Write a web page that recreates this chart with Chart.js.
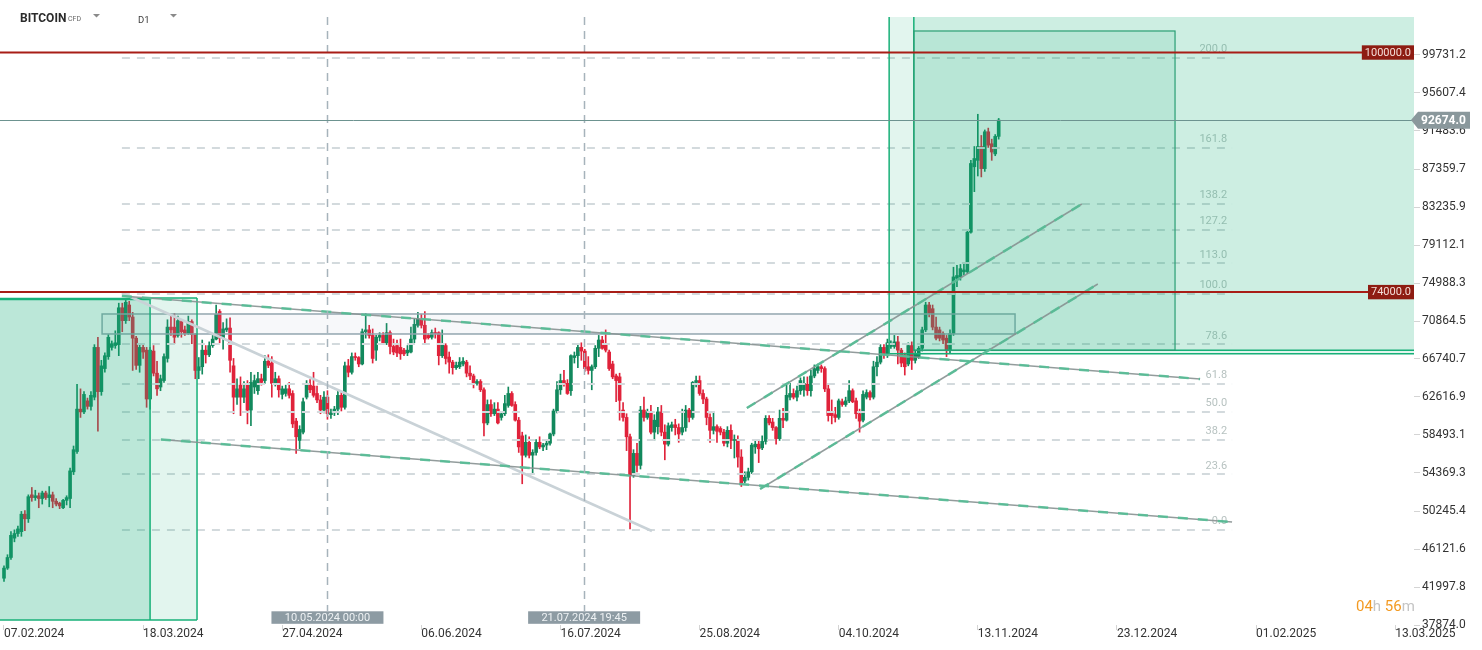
<!DOCTYPE html>
<html>
<head>
<meta charset="utf-8">
<script src="https://cdn.jsdelivr.net/npm/chart.js@4.4.1/dist/chart.umd.min.js"></script>
<style>
  html, body { margin: 0; padding: 0; background: #fff; }
  #wrap { width: 1482px; height: 650px; }
</style>
</head>
<body>
<div id="wrap"><canvas id="chart" width="1482" height="650"></canvas></div>
<script>
// daily candles, index 0 = 07.02.2024 ... 286 = 19.11.2024, prices in thousands
var opens = [
  42.95, 44.05, 45.2, 47.3, 47.8, 48.0, 49.9, 49.4, 52.0, 51.7,
  51.9, 51.6, 52.2, 51.7, 52.0, 51.3, 51.1, 50.6, 51.4, 51.6,
  54.5, 56.7, 61.3, 61.0, 62.2, 61.6, 62.6, 68.0, 63.2, 65.7,
  67.0, 68.0, 68.2, 68.3, 72.3, 70.9, 72.6, 71.3, 69.0, 66.05,
  68.0, 67.7, 62.4, 67.6, 65.2, 63.7, 64.4, 66.8, 70.2, 70.2,
  69.3, 70.8, 69.9, 69.5, 70.8, 69.4, 65.5, 65.9, 67.7, 67.2,
  68.2, 68.9, 71.9, 69.0, 69.9, 70.1, 66.0, 62.6, 63.9, 62.6,
  64.0, 61.2, 63.7, 63.3, 64.6, 64.4, 66.5, 66.3, 64.1, 64.6,
  62.9, 63.0, 63.5, 63.0, 60.0, 57.9, 58.8, 62.6, 63.9, 63.8,
  63.0, 62.3, 61.2, 62.6, 60.7, 60.9, 61.3, 62.8, 61.5, 66.0,
  65.3, 67.0, 66.9, 66.2, 69.7, 69.9, 69.3, 67.7, 69.1, 69.3,
  68.5, 69.6, 68.1, 68.2, 68.0, 67.7, 67.4, 67.5, 68.9, 70.4,
  71.0, 70.4, 69.3, 69.1, 69.6, 69.6, 67.1, 68.2, 66.95, 66.4,
  65.8, 65.9, 66.2, 66.4, 65.2, 64.9, 64.1, 64.3, 63.4, 59.8,
  61.8, 60.8, 61.3, 60.4, 60.8, 61.7, 63.0, 61.8, 60.1, 58.4,
  56.3, 57.7, 56.3, 56.6, 57.7, 57.2, 57.4, 57.6, 58.6, 61.1,
  63.4, 64.4, 64.1, 63.3, 66.9, 67.1, 68.0, 67.6, 65.9, 65.5,
  65.9, 67.9, 68.8, 68.4, 67.5, 66.2, 64.9, 64.8, 61.2, 60.4,
  58.3, 54.1, 56.5, 55.2, 61.2, 60.4, 61.0, 58.8, 59.4, 61.0,
  58.8, 57.5, 59.3, 59.6, 59.3, 58.8, 59.3, 61.2, 60.4, 64.2,
  64.4, 63.0, 62.4, 60.4, 59.0, 59.4, 59.2, 58.8, 57.6, 59.0,
  57.9, 58.0, 56.1, 53.5, 53.9, 54.5, 57.2, 57.5, 57.1, 57.8,
  60.3, 59.9, 59.3, 58.1, 60.3, 60.1, 62.6, 63.0, 62.6, 63.3,
  63.4, 64.0, 63.3, 64.9, 65.5, 65.9, 65.7, 63.5, 60.9, 60.7,
  60.4, 62.1, 61.8, 62.2, 63.3, 62.2, 60.8, 60.1, 62.6, 63.1,
  62.6, 65.9, 66.4, 68.0, 67.3, 68.1, 68.1, 68.6, 67.7, 67.2,
  66.2, 68.2, 66.6, 67.0, 67.9, 69.9, 72.6, 72.2, 70.2, 69.9,
  69.5, 69.0, 67.7, 69.5, 75.5, 75.65, 76.2, 76.2, 80.5, 87.6,
  88.3, 89.8, 87.4, 91.4, 90.1, 89.0, 90.9
];
var highs = [
  44.3, 45.5, 48.0, 48.2, 48.6, 50.2, 50.3, 52.0, 52.8, 52.5,
  52.2, 52.4, 52.4, 52.9, 52.3, 51.6, 51.2, 51.5, 51.9, 54.9,
  57.3, 64.0, 63.5, 63.2, 62.5, 63.2, 68.3, 69.1, 66.6, 67.4,
  69.4, 68.7, 69.8, 72.8, 72.8, 73.3, 73.0, 71.8, 69.2, 68.3,
  68.4, 68.0, 68.0, 68.2, 66.5, 65.0, 67.3, 71.0, 71.5, 71.7,
  71.4, 71.0, 70.3, 71.4, 71.0, 69.5, 66.9, 68.8, 68.2, 68.6,
  69.3, 72.6, 72.1, 70.7, 71.1, 71.2, 66.8, 64.6, 64.8, 64.3,
  64.4, 65.3, 65.0, 65.3, 65.1, 67.1, 67.2, 67.0, 65.3, 64.9,
  63.8, 63.9, 64.2, 63.3, 60.3, 59.5, 62.5, 64.4, 64.5, 65.3,
  63.8, 62.8, 63.2, 63.3, 61.3, 61.6, 63.3, 63.1, 66.4, 66.7,
  67.4, 67.4, 67.0, 70.0, 71.7, 70.4, 70.0, 69.3, 69.6, 69.6,
  70.6, 69.8, 68.9, 68.8, 68.9, 67.9, 68.2, 70.2, 71.1, 71.8,
  71.6, 71.9, 69.5, 69.9, 70.1, 69.7, 69.9, 68.4, 67.5, 66.6,
  66.4, 66.9, 66.9, 66.6, 66.0, 65.1, 64.5, 64.5, 63.6, 62.3,
  62.3, 62.0, 62.0, 61.0, 62.8, 63.7, 63.2, 62.1, 60.4, 58.8,
  58.5, 58.3, 56.9, 58.0, 58.3, 57.6, 58.0, 58.7, 61.3, 64.3,
  65.1, 65.5, 64.5, 67.2, 67.5, 68.4, 68.5, 67.8, 67.0, 66.1,
  68.2, 69.3, 69.2, 69.9, 67.7, 66.5, 65.1, 65.2, 62.0, 60.8,
  58.6, 56.9, 57.6, 61.6, 62.6, 61.3, 61.7, 60.7, 61.5, 61.7,
  59.6, 59.8, 59.9, 60.2, 59.7, 61.3, 61.7, 61.4, 64.3, 64.9,
  64.9, 63.4, 62.6, 60.8, 61.0, 59.6, 59.4, 59.1, 59.4, 59.6,
  58.5, 58.4, 56.9, 54.5, 54.9, 57.6, 58.0, 57.9, 58.4, 60.6,
  60.6, 60.3, 59.4, 61.2, 61.4, 63.9, 64.1, 63.5, 63.8, 64.7,
  64.8, 64.8, 65.5, 66.1, 66.2, 66.1, 65.9, 64.1, 62.3, 61.5,
  62.4, 62.4, 62.6, 64.4, 63.5, 62.5, 61.3, 63.3, 63.4, 63.3,
  66.5, 67.0, 68.3, 68.3, 68.9, 68.7, 69.3, 69.2, 67.9, 67.4,
  68.5, 68.6, 67.6, 68.1, 70.2, 72.9, 72.9, 72.6, 71.3, 70.2,
  69.7, 69.3, 69.9, 76.7, 76.9, 77.0, 77.1, 80.7, 88.3, 89.8,
  93.3, 91.0, 91.6, 91.8, 90.6, 91.1, 92.85
];
var lows = [
  42.6, 43.9, 45.0, 46.9, 47.5, 47.5, 48.1, 49.0, 51.3, 51.4,
  50.6, 51.0, 51.5, 50.7, 50.6, 50.8, 50.5, 50.5, 50.9, 50.6,
  54.2, 56.5, 60.4, 60.8, 61.3, 61.2, 62.3, 58.9, 62.8, 65.3,
  66.7, 67.7, 67.9, 67.1, 69.7, 70.6, 70.9, 65.5, 65.6, 65.3,
  66.8, 61.5, 61.3, 64.9, 62.8, 63.3, 64.2, 66.4, 69.3, 68.4,
  69.1, 69.1, 69.3, 69.4, 68.4, 64.6, 64.6, 65.1, 66.3, 67.0,
  68.0, 68.8, 68.5, 67.8, 69.7, 65.3, 60.8, 61.8, 60.6, 62.0,
  59.7, 59.5, 63.0, 62.9, 63.9, 64.1, 65.8, 62.6, 63.8, 62.6,
  62.4, 62.7, 62.5, 59.3, 56.5, 57.0, 58.6, 62.4, 63.1, 62.6,
  62.0, 60.8, 60.9, 60.2, 60.3, 60.6, 60.7, 61.1, 61.3, 64.8,
  65.1, 66.6, 65.9, 66.1, 69.0, 69.0, 66.3, 66.6, 68.7, 68.3,
  68.3, 67.3, 67.2, 67.0, 66.7, 67.1, 67.1, 67.4, 68.5, 70.2,
  70.1, 68.5, 68.9, 68.9, 69.0, 66.1, 66.9, 66.2, 65.2, 65.1,
  65.6, 65.7, 66.0, 64.8, 64.5, 63.6, 63.9, 63.2, 58.4, 59.6,
  60.5, 60.6, 59.7, 60.1, 60.6, 61.5, 61.6, 60.0, 56.6, 53.2,
  56.1, 56.0, 54.3, 56.3, 57.0, 56.8, 56.9, 57.4, 58.4, 60.9,
  62.9, 63.8, 62.9, 62.8, 66.3, 65.8, 66.6, 65.4, 65.1, 63.4,
  65.7, 67.0, 67.8, 67.5, 65.5, 64.6, 62.1, 60.1, 60.0, 56.8,
  48.3, 53.9, 54.5, 54.8, 60.0, 60.2, 58.6, 57.9, 58.6, 58.4,
  55.8, 57.3, 58.9, 58.5, 57.7, 58.5, 58.9, 59.9, 60.2, 63.7,
  62.8, 61.9, 59.6, 57.7, 58.6, 57.7, 58.5, 57.3, 57.2, 57.0,
  56.0, 55.0, 52.9, 53.3, 53.6, 54.3, 56.5, 55.5, 56.9, 57.5,
  59.6, 59.0, 57.5, 57.9, 59.3, 60.0, 62.3, 62.4, 62.2, 62.9,
  62.7, 62.8, 62.7, 64.7, 65.2, 65.3, 63.2, 60.0, 59.7, 59.9,
  60.2, 61.6, 61.6, 62.0, 62.0, 60.3, 58.8, 59.9, 62.4, 62.3,
  62.4, 64.9, 66.2, 66.8, 66.9, 67.9, 67.9, 66.2, 65.9, 65.0,
  66.0, 65.6, 66.3, 66.8, 67.6, 69.7, 71.3, 69.9, 68.8, 68.7,
  68.4, 67.0, 67.4, 69.3, 74.6, 75.3, 75.9, 76.0, 80.4, 84.9,
  86.6, 86.5, 87.1, 89.7, 88.3, 88.8, 90.6
];
var closes = [
  44.05, 45.2, 47.6, 47.8, 48.3, 49.9, 49.4, 51.8, 51.7, 51.9,
  51.6, 52.2, 51.7, 52.0, 51.3, 51.0, 50.8, 51.4, 51.7, 54.6,
  56.9, 61.3, 61.0, 62.9, 61.6, 62.8, 68.0, 63.2, 66.0, 67.1,
  69.1, 68.4, 68.5, 72.3, 70.9, 72.9, 71.3, 69.0, 66.05, 68.0,
  67.5, 62.4, 67.7, 65.2, 63.5, 64.6, 67.0, 70.2, 69.9, 69.1,
  70.9, 69.7, 69.5, 70.8, 69.4, 65.5, 65.9, 67.7, 67.2, 68.2,
  68.9, 71.6, 69.0, 70.0, 70.1, 66.6, 62.6, 63.5, 62.6, 63.5,
  61.2, 64.2, 64.4, 64.6, 64.2, 66.5, 66.05, 64.1, 64.6, 63.4,
  63.5, 63.5, 62.8, 59.7, 58.3, 59.1, 62.1, 63.9, 63.4, 62.8,
  62.3, 61.2, 62.6, 60.8, 60.9, 61.3, 62.8, 61.5, 66.0, 65.3,
  67.0, 66.9, 66.2, 69.7, 69.9, 69.3, 66.8, 69.1, 69.3, 68.5,
  69.6, 68.1, 67.5, 67.4, 67.3, 67.3, 67.7, 68.9, 70.5, 71.1,
  70.4, 68.9, 69.05, 69.6, 69.5, 67.1, 68.4, 66.8, 66.4, 65.8,
  66.05, 66.4, 66.5, 65.2, 64.9, 64.1, 64.3, 63.4, 59.8, 61.8,
  60.8, 61.3, 59.8, 60.8, 61.9, 63.0, 61.7, 60.1, 57.2, 56.3,
  57.7, 56.3, 56.6, 57.7, 57.2, 57.4, 57.6, 58.6, 61.1, 63.4,
  64.4, 64.1, 63.0, 67.1, 67.1, 68.0, 67.6, 65.7, 65.5, 65.9,
  67.9, 68.8, 67.9, 67.7, 65.7, 64.8, 64.4, 62.25, 60.4, 58.3,
  54.1, 56.5, 55.2, 61.2, 60.4, 61.0, 58.8, 60.1, 61.0, 58.8,
  57.5, 59.5, 59.6, 59.3, 58.6, 59.3, 61.2, 60.4, 64.2, 64.4,
  63.0, 62.4, 60.4, 59.0, 59.4, 58.9, 58.8, 57.6, 59.0, 57.9,
  58.0, 56.1, 53.3, 53.9, 54.5, 57.4, 57.5, 57.0, 57.8, 60.3,
  59.8, 59.3, 58.1, 60.3, 60.1, 62.8, 63.0, 62.6, 63.3, 64.4,
  64.1, 63.3, 64.9, 65.7, 65.9, 65.7, 63.5, 60.6, 60.6, 60.4,
  62.2, 61.8, 62.2, 63.3, 62.1, 60.8, 60.0, 62.9, 63.1, 62.6,
  65.9, 66.4, 68.0, 67.3, 68.5, 68.4, 68.6, 67.7, 66.3, 65.9,
  68.2, 66.6, 67.3, 67.9, 69.9, 72.6, 71.7, 70.2, 69.0, 69.0,
  68.8, 67.7, 69.5, 75.65, 75.8, 76.55, 76.4, 80.5, 87.96, 88.5,
  89.8, 87.4, 91.4, 89.95, 89.2, 90.9, 92.67
];

var xTickDays = [0, 40, 80, 120, 160, 200, 240, 280, 320, 360, 400];
var xTickLabels = ['07.02.2024', '18.03.2024', '27.04.2024', '06.06.2024', '16.07.2024', '25.08.2024',
  '04.10.2024', '13.11.2024', '23.12.2024', '01.02.2025', '13.03.2025'];
var yTicks = [37874.0, 41997.8, 46121.6, 50245.4, 54369.3, 58493.1, 62616.9, 66740.7,
  70864.5, 74988.3, 79112.1, 83235.9, 87359.7, 91483.6, 95607.4, 99731.2];

// drawings on the chart, in (day index, price)
var fibLevels = [0.0, 23.6, 38.2, 50.0, 61.8, 78.6, 100.0, 113.0, 127.2, 138.2, 161.8, 200.0];
var fibLow = 48185, fibHigh = 73795, fibFrom = 33.9, fibTo = 353.1;
var markerDays = [93, 166.8];
var markerLabels = ['10.05.2024 00:00', '21.07.2024 19:45'];
var levelPrices = [100000, 74000];
var lastPrice = 92674.0;
var channelLines = [
  [33.9, 73578, 343.9, 64571],
  [45.1, 58006, 353.1, 49053],
  [213.6, 61424, 309.9, 83562],
  [217.4, 52634, 314.5, 74880]
];
var guideLine = [33.9, 73904, 186.3, 48076];
var zoneRect = [28.2, 71625, 290.7, 69455];

var xMin = -1.15, xMax = 405.41, yMin = 37874.0, yMax = 103855.0;
var up = '#12895d', down = '#e0233b';

var days = closes.map(function (c, i) { return i; });
var colors = days.map(function (i) { return closes[i] >= opens[i] ? up : down; });

var overlay = {
  id: 'overlay',
  afterDatasetsDraw: function (chart) {
    var ctx = chart.ctx, xs = chart.scales.x, ys = chart.scales.y, area = chart.chartArea;
    var X = function (d) { return xs.getPixelForValue(d); };
    var Y = function (p) { return ys.getPixelForValue(p); };
    var fibPrice = function (lv) { return fibLow + (fibHigh - fibLow) * lv / 100; };
    var line = function (x1, y1, x2, y2) { ctx.beginPath(); ctx.moveTo(x1, y1); ctx.lineTo(x2, y2); ctx.stroke(); };
    ctx.save();

    // fibonacci levels
    ctx.lineWidth = 2;
    ctx.strokeStyle = '#d3dadd';
    ctx.setLineDash([8, 7]);
    fibLevels.forEach(function (lv) {
      var y = Math.round(Y(fibPrice(lv)));
      line(X(fibFrom), y, X(fibTo), y);
    });
    ctx.setLineDash([]);
    ctx.font = '11px Roboto';
    ctx.fillStyle = '#b7c2c0';
    ctx.textAlign = 'right';
    ctx.textBaseline = 'bottom';
    fibLevels.forEach(function (lv) {
      ctx.fillText(lv.toFixed(1), X(fibTo) - 5, Y(fibPrice(lv)) - 3);
    });

    // range rectangle
    var rx = X(zoneRect[0]), ry = Y(zoneRect[1]), rw = X(zoneRect[2]) - rx, rh = Y(zoneRect[3]) - ry;
    ctx.fillStyle = 'rgba(150,170,185,0.08)';
    ctx.fillRect(rx, ry, rw, rh);
    ctx.strokeStyle = '#93a6b0';
    ctx.lineWidth = 1.5;
    ctx.strokeRect(rx, ry, rw, rh);

    // position boxes
    var box = function (d1, p1, d2, p2, a) {
      var x1 = X(d1), y1 = Y(p1);
      ctx.fillStyle = 'rgba(22,176,122,' + a + ')';
      ctx.fillRect(x1, y1, X(d2) - x1, Y(p2) - y1);
    };
    box(xMin, 73361, 55.5, 38419, 0.125);
    box(xMin, 73250, 42.0, 38419, 0.19);
    box(254.5, yMax, xMax, 67320, 0.125);
    box(261.6, yMax, xMax, 67680, 0.10);
    box(261.6, 102336, 336.7, 67680, 0.11);
    ctx.strokeStyle = '#17b078';
    ctx.lineWidth = 1.5;
    line(X(42.0), Y(73361), X(55.5), Y(73361));
    line(X(55.5), Y(73361), X(55.5), Y(38419));
    line(X(xMin), Y(38419), X(55.5), Y(38419));
    line(X(42.0), Y(73250), X(42.0), Y(38419));
    ctx.lineWidth = 2.5;
    line(X(xMin), Y(73250), X(42.0), Y(73250));
    ctx.lineWidth = 1.5;
    line(X(254.5), area.top, X(254.5), Y(67320));
    line(X(254.5), Y(67320), area.right, Y(67320));
    line(X(261.6), area.top, X(261.6), Y(67680));
    line(X(261.6), Y(67680), area.right, Y(67680));
    ctx.strokeStyle = '#2a9f74';
    ctx.lineWidth = 1.2;
    ctx.strokeRect(X(261.6), Y(102336), X(336.7) - X(261.6), Y(67680) - Y(102336));

    // trend lines
    ctx.strokeStyle = '#c9d2d7';
    ctx.lineWidth = 2.5;
    line(X(guideLine[0]), Y(guideLine[1]), X(guideLine[2]), Y(guideLine[3]));
    channelLines.forEach(function (c) {
      ctx.setLineDash([]);
      ctx.strokeStyle = 'rgba(135,145,145,0.9)';
      ctx.lineWidth = 1.5;
      line(X(c[0]), Y(c[1]), X(c[2]), Y(c[3]));
      ctx.setLineDash([10, 10]);
      ctx.strokeStyle = 'rgba(85,190,150,0.9)';
      ctx.lineWidth = 2.5;
      line(X(c[0]), Y(c[1]), X(c[2]), Y(c[3]));
    });

    // vertical time markers
    ctx.setLineDash([8, 6]);
    ctx.strokeStyle = '#a6b3bb';
    ctx.lineWidth = 1.5;
    markerDays.forEach(function (d) {
      var x = Math.round(X(d)) + 0.5;
      line(x, area.top, x, 611);
    });
    ctx.setLineDash([]);
    ctx.font = '11px Roboto';
    ctx.textAlign = 'center';
    ctx.textBaseline = 'middle';
    markerDays.forEach(function (d, i) {
      var x = X(d);
      ctx.fillStyle = '#8d9ba3';
      ctx.fillRect(x - 56, 611.3, 112, 12.5);
      ctx.fillStyle = '#eef2f4';
      ctx.fillText(markerLabels[i], x, 618);
    });

    // horizontal levels
    ctx.strokeStyle = '#a81d16';
    ctx.lineWidth = 2;
    levelPrices.forEach(function (p) { line(area.left, Y(p), area.right, Y(p)); });
    ctx.strokeStyle = '#6d9390';
    ctx.lineWidth = 1;
    line(area.left, Math.round(Y(lastPrice)) + 0.5, area.right, Math.round(Y(lastPrice)) + 0.5);

    ctx.font = '11px Roboto';
    ctx.textAlign = 'right';
    levelPrices.forEach(function (p) {
      var t = p.toFixed(1), w = ctx.measureText(t).width + 6, y = Y(p);
      ctx.fillStyle = '#8e1c12';
      ctx.fillRect(area.right - w, y - 7.2, w, 14.4);
      ctx.fillStyle = '#f4ddd8';
      ctx.fillText(t, area.right - 3, y + 0.5);
    });

    var py = Y(lastPrice);
    ctx.fillStyle = '#8a989c';
    ctx.beginPath();
    ctx.moveTo(area.right - 3, py);
    ctx.lineTo(area.right + 4, py - 8.3);
    ctx.lineTo(1470, py - 8.3);
    ctx.lineTo(1470, py + 8.7);
    ctx.lineTo(area.right + 4, py + 8.7);
    ctx.closePath();
    ctx.fill();
    ctx.fillStyle = '#ffffff';
    ctx.font = 'bold 12px Roboto';
    ctx.textAlign = 'left';
    ctx.fillText(lastPrice.toFixed(1), area.right + 7, py + 0.5);
    ctx.restore();
  },
  afterDraw: function (chart) {
    var ctx = chart.ctx;
    ctx.save();
    ctx.textAlign = 'left';
    ctx.textBaseline = 'alphabetic';
    ctx.fillStyle = '#2b2b2b';
    ctx.font = 'bold 12px Roboto';
    ctx.fillText('BITCOIN', 20, 22);
    ctx.fillStyle = '#666';
    ctx.font = '7px Roboto';
    ctx.fillText('CFD', 68, 21);
    ctx.fillStyle = '#3c3c3c';
    ctx.font = '9.5px Roboto';
    ctx.fillText('D1', 138, 23);
    ctx.fillStyle = '#8a8a8a';
    [93, 170].forEach(function (x) {
      ctx.beginPath(); ctx.moveTo(x, 14); ctx.lineTo(x + 7, 14); ctx.lineTo(x + 3.5, 17.5); ctx.closePath(); ctx.fill();
    });
    // session countdown
    ctx.font = '15px Roboto';
    var parts = [['04', '#f39a22'], ['h ', '#c4c4c4'], ['56', '#f39a22'], ['m', '#c4c4c4']];
    var x = 1356;
    parts.forEach(function (p) {
      ctx.fillStyle = p[1];
      ctx.fillText(p[0], x, 611);
      x += ctx.measureText(p[0]).width;
    });
    ctx.restore();
  }
};

Chart.defaults.font.family = 'Roboto';

new Chart(document.getElementById('chart'), {
  type: 'bar',
  data: {
    datasets: [
      {
        label: 'wick',
        data: days.map(function (i) { return {x: i, y: [lows[i] * 1000, highs[i] * 1000]}; }),
        backgroundColor: colors,
        barThickness: 1,
        grouped: false
      },
      {
        label: 'body',
        data: days.map(function (i) { return {x: i, y: [opens[i] * 1000, closes[i] * 1000]}; }),
        backgroundColor: colors,
        barThickness: 3,
        minBarLength: 1,
        grouped: false
      }
    ]
  },
  options: {
    responsive: false,
    animation: false,
    layout: {padding: {top: 17, left: 0, right: 0, bottom: 0}},
    plugins: {legend: {display: false}, tooltip: {enabled: false}},
    scales: {
      x: {
        type: 'linear', min: xMin, max: xMax, offset: false,
        afterBuildTicks: function (s) { s.ticks = xTickDays.map(function (v) { return {value: v}; }); },
        afterFit: function (s) { s.height = 25; },
        ticks: {
          autoSkip: false, maxRotation: 0, align: 'start', padding: -3,
          color: '#333', font: {size: 12},
          callback: function (v, i) { return xTickLabels[i]; }
        },
        grid: {offset: false, drawOnChartArea: false, drawTicks: true, tickLength: 5, color: '#d4d4d4'},
        border: {display: false}
      },
      y: {
        type: 'linear', position: 'right', min: yMin, max: yMax, beginAtZero: false,
        afterBuildTicks: function (s) { s.ticks = yTicks.map(function (v) { return {value: v}; }); },
        afterFit: function (s) { s.width = 68; },
        ticks: {
          padding: 2, color: '#333', font: {size: 12},
          callback: function (v) { return v.toFixed(1); }
        },
        grid: {drawOnChartArea: false, drawTicks: true, tickLength: 6, color: '#d4d4d4'},
        border: {display: false}
      }
    }
  },
  plugins: [overlay]
});
</script>
</body>
</html>
